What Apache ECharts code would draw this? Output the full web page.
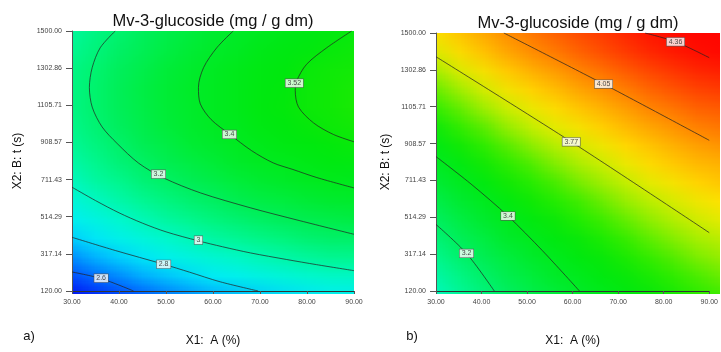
<!DOCTYPE html>
<html>
<head>
<meta charset="utf-8">
<script src="https://cdn.jsdelivr.net/npm/echarts@6/dist/echarts.min.js"></script>
<style>
  html, body { margin: 0; padding: 0; background: #fff; }
  #wrap { position: relative; width: 721px; height: 352px; overflow: hidden; }
  .hm { position: absolute; overflow: hidden; }
  .cells { position: absolute; width: 13px; height: 15px; transform-origin: 0 0; }
  #main { position: absolute; left: 0; top: 0; width: 721px; height: 352px; }
</style>
</head>
<body>
<div id="wrap">
  <div class="hm" id="boxA"><div class="cells" id="cellsA"></div></div>
  <div class="hm" id="boxB"><div class="cells" id="cellsB"></div></div>
  <div id="main"></div>
</div>
<script>
// grid samples of the surface (X1 = A %, X2 = t s)
const xCells = [30, 35, 40, 45, 50, 55, 60, 65, 70, 75, 80, 85, 90]
const yCells = [120, 218.57, 317.14, 415.71, 514.29, 612.86, 711.43, 810, 908.57, 1007.14, 1105.71, 1204.29, 1302.86, 1401.43, 1500]

// a) values, rows from t = 120 up to t = 1500
const zA = [
  [2.49, 2.54, 2.59, 2.63, 2.67, 2.71, 2.75, 2.78, 2.81, 2.84, 2.86, 2.88, 2.90],
  [2.61, 2.66, 2.70, 2.75, 2.79, 2.83, 2.87, 2.90, 2.93, 2.95, 2.98, 3.00, 3.01],
  [2.71, 2.76, 2.81, 2.86, 2.90, 2.94, 2.97, 3.00, 3.03, 3.06, 3.08, 3.10, 3.12],
  [2.81, 2.86, 2.91, 2.95, 2.99, 3.03, 3.07, 3.10, 3.13, 3.15, 3.18, 3.20, 3.21],
  [2.89, 2.94, 2.99, 3.03, 3.08, 3.11, 3.15, 3.18, 3.21, 3.24, 3.26, 3.28, 3.30],
  [2.96, 3.01, 3.06, 3.11, 3.15, 3.19, 3.22, 3.26, 3.29, 3.31, 3.33, 3.35, 3.37],
  [3.02, 3.08, 3.12, 3.17, 3.21, 3.25, 3.28, 3.32, 3.35, 3.37, 3.40, 3.42, 3.43],
  [3.07, 3.13, 3.17, 3.22, 3.26, 3.30, 3.33, 3.37, 3.40, 3.42, 3.45, 3.47, 3.48],
  [3.11, 3.16, 3.21, 3.26, 3.30, 3.34, 3.37, 3.41, 3.44, 3.46, 3.48, 3.50, 3.52],
  [3.14, 3.19, 3.24, 3.29, 3.33, 3.37, 3.40, 3.43, 3.46, 3.49, 3.51, 3.53, 3.55],
  [3.16, 3.21, 3.26, 3.30, 3.34, 3.38, 3.42, 3.45, 3.48, 3.51, 3.53, 3.55, 3.57],
  [3.16, 3.21, 3.26, 3.31, 3.35, 3.39, 3.42, 3.45, 3.48, 3.51, 3.53, 3.55, 3.57],
  [3.16, 3.21, 3.26, 3.30, 3.34, 3.38, 3.42, 3.45, 3.48, 3.50, 3.53, 3.55, 3.56],
  [3.14, 3.19, 3.24, 3.28, 3.33, 3.36, 3.40, 3.43, 3.46, 3.49, 3.51, 3.53, 3.55],
  [3.11, 3.16, 3.21, 3.25, 3.30, 3.33, 3.37, 3.40, 3.43, 3.46, 3.48, 3.50, 3.52]
]

// b) values
const zB = [
  [3.03, 3.10, 3.16, 3.22, 3.28, 3.32, 3.37, 3.42, 3.46, 3.51, 3.55, 3.59, 3.63],
  [3.07, 3.14, 3.20, 3.27, 3.32, 3.37, 3.41, 3.46, 3.51, 3.55, 3.59, 3.63, 3.67],
  [3.12, 3.19, 3.25, 3.31, 3.36, 3.41, 3.46, 3.51, 3.55, 3.60, 3.64, 3.68, 3.72],
  [3.17, 3.24, 3.30, 3.36, 3.41, 3.46, 3.51, 3.55, 3.60, 3.65, 3.69, 3.73, 3.76],
  [3.22, 3.29, 3.35, 3.41, 3.46, 3.51, 3.56, 3.61, 3.65, 3.70, 3.74, 3.78, 3.82],
  [3.27, 3.34, 3.40, 3.47, 3.52, 3.57, 3.61, 3.66, 3.71, 3.75, 3.79, 3.83, 3.87],
  [3.33, 3.40, 3.46, 3.52, 3.57, 3.62, 3.67, 3.72, 3.76, 3.81, 3.85, 3.89, 3.93],
  [3.39, 3.45, 3.52, 3.58, 3.63, 3.68, 3.73, 3.77, 3.82, 3.87, 3.91, 3.95, 3.98],
  [3.45, 3.52, 3.58, 3.64, 3.69, 3.74, 3.79, 3.83, 3.88, 3.93, 3.97, 4.01, 4.04],
  [3.51, 3.58, 3.64, 3.70, 3.76, 3.81, 3.85, 3.90, 3.95, 3.99, 4.03, 4.07, 4.11],
  [3.58, 3.65, 3.71, 3.77, 3.82, 3.87, 3.92, 3.96, 4.01, 4.06, 4.10, 4.14, 4.17],
  [3.65, 3.71, 3.78, 3.84, 3.89, 3.94, 3.99, 4.03, 4.08, 4.13, 4.17, 4.21, 4.24],
  [3.72, 3.79, 3.85, 3.91, 3.96, 4.01, 4.06, 4.10, 4.15, 4.20, 4.24, 4.28, 4.31],
  [3.79, 3.86, 3.92, 3.98, 4.04, 4.08, 4.13, 4.18, 4.23, 4.27, 4.31, 4.35, 4.39],
  [3.87, 3.94, 4.00, 4.06, 4.11, 4.16, 4.21, 4.25, 4.30, 4.35, 4.39, 4.43, 4.46]
]

const xTicks = [30, 40, 50, 60, 70, 80, 90]
const yTicks = [120, 317.14, 514.29, 711.43, 908.57, 1105.71, 1302.86, 1500]

// contour lines, [A, t]
const a26 = [[30, 221], [36.2, 186], [43.1, 120]]
const a28 = [[30, 405], [39.2, 335], [49.5, 262], [55, 220], [61.5, 169], [69.6, 120]]
const a30 = [[30, 671], [35, 600], [40, 535], [45, 480], [50, 434], [56.9, 386], [62, 355], [68, 322], [75.7, 287], [82, 260], [90, 228]]
const a32 = [[39.2, 1500], [36.0, 1411], [34.3, 1306], [33.7, 1201], [34.3, 1096], [36.4, 991], [39.6, 903], [44.2, 798], [49.5, 720], [57.3, 641], [67.9, 562], [78.5, 493], [90, 421]]
const a34 = [[64.3, 1500], [60.8, 1411], [58.0, 1306], [56.9, 1201], [57.3, 1113], [59.6, 1030], [63.6, 951], [68.2, 865], [72.8, 800], [77, 765], [82.1, 722], [90, 667]]
const a352 = [[89.5, 1500], [84.2, 1411], [79.9, 1323], [77.8, 1235], [77.5, 1183], [78.2, 1096], [81.4, 1012], [85.6, 951], [90, 912]]
const aLabels = [[36.2, 188, '2.6'], [49.5, 262, '2.8'], [56.9, 390, '3'], [48.4, 740, '3.2'], [63.5, 951, '3.4'], [77.3, 1223, '3.52']]

const b32 = [[30, 476], [36.7, 321], [42.8, 120]]
const b34 = [[30, 839], [37.9, 688], [45.8, 521], [53.4, 335], [61.5, 120]]
const b377 = [[30, 1373], [59.7, 918], [90, 432]]
const b405 = [[44.9, 1500], [66.8, 1227], [90, 926]]
const b436 = [[75.9, 1500], [82.6, 1453], [90, 1368]]
const bLabels = [[36.7, 321, '3.2'], [45.8, 521, '3.4'], [59.7, 918, '3.77'], [66.8, 1227, '4.05'], [82.6, 1453, '4.36']]

// colour ramp from 2.5 to 4.5, one stop every 0.125
const rampColors = ['#0000f0', '#0040ff', '#0090ff', '#00e8ff', '#00f8d8', '#00f898', '#00f060', '#00ec30', '#00e810',
  '#30ec00', '#a8f000', '#ffe800', '#ffb000', '#ff7800', '#ff4000', '#ff1000', '#ff0000']

const grids = [
  { left: 72, top: 31, width: 282, height: 263 },
  { left: 436, top: 33, width: 284, height: 261 }
]
const font = 'Liberation Sans, Arial, sans-serif'

function drawCells(boxId, cellId, g, z) {
  const box = document.getElementById(boxId)
  box.style.left = g.left + 'px'
  box.style.top = g.top + 'px'
  box.style.width = g.width + 'px'
  box.style.height = g.height + 'px'
  const sx = g.width / (xCells.length - 1)
  const sy = g.height / (yCells.length - 1)
  const el = document.getElementById(cellId)
  el.style.left = (-sx / 2) + 'px'
  el.style.top = (-sy / 2) + 'px'
  el.style.transform = 'scale(' + sx + ',' + sy + ')'
  const data = []
  z.forEach((row, j) => row.forEach((v, i) => data.push([i, j, v])))
  const chart = echarts.init(el, null, { renderer: 'canvas', devicePixelRatio: 1 })
  chart.setOption({
    animation: false,
    grid: { left: 0, right: 0, top: 0, bottom: 0 },
    xAxis: { type: 'category', data: xCells, show: false },
    yAxis: { type: 'category', data: yCells, show: false },
    visualMap: { show: false, min: 2.5, max: 4.5, inRange: { color: rampColors } },
    series: [{ type: 'heatmap', data: data, silent: true }]
  })
}
drawCells('boxA', 'cellsA', grids[0], zA)
drawCells('boxB', 'cellsB', grids[1], zB)

function xAx(i) {
  return {
    type: 'value', gridIndex: i, min: 30, max: 90, interval: 10,
    name: 'X1:  A (%)', nameLocation: 'middle', nameGap: 44,
    nameTextStyle: { fontSize: 12, color: '#111', fontFamily: font },
    axisLine: { lineStyle: { color: '#333', width: 1 } },
    axisTick: { length: 3, lineStyle: { color: '#555' } },
    axisLabel: { fontSize: 7, color: '#444', margin: 8, fontFamily: font, formatter: v => v.toFixed(2) },
    splitLine: { show: false }
  }
}
function yAx(i, gap) {
  return {
    type: 'value', gridIndex: i, min: 120, max: 1500,
    name: 'X2: B: t (s)', nameLocation: 'middle', nameGap: gap,
    nameTextStyle: { fontSize: 12, color: '#111', fontFamily: font },
    axisLine: { show: true, lineStyle: { color: '#555', width: 1 } },
    axisTick: { show: true, length: 6, customValues: yTicks, lineStyle: { color: '#555' } },
    axisLabel: { fontSize: 7, color: '#444', margin: 10, fontFamily: font, customValues: yTicks, formatter: v => v.toFixed(2) },
    splitLine: { show: false }
  }
}
function contour(pts, i) {
  return {
    type: 'line', xAxisIndex: i, yAxisIndex: i, data: pts, smooth: 0.3,
    showSymbol: false, silent: true, z: 3,
    lineStyle: { color: 'rgba(35,35,35,0.8)', width: 0.9 }
  }
}
function labels(list, i) {
  return {
    type: 'scatter', xAxisIndex: i, yAxisIndex: i, data: list, symbolSize: 0, silent: true, z: 5,
    label: {
      show: true, position: 'inside', formatter: p => p.data[2],
      fontSize: 7, color: '#222', fontFamily: font,
      backgroundColor: '#fff', borderColor: '#555', borderWidth: 0.6, padding: [1, 2, 0, 2]
    }
  }
}

const chart = echarts.init(document.getElementById('main'), null, { renderer: 'canvas' })
chart.setOption({
  animation: false,
  grid: grids,
  xAxis: [xAx(0), xAx(1)],
  yAxis: [yAx(0, 48), yAx(1, 44)],
  graphic: [
    { type: 'text', x: 213, y: 21, style: { text: 'Mv-3-glucoside (mg / g dm)', fontSize: 16.5, fill: '#111', fontFamily: font, textAlign: 'center', textVerticalAlign: 'middle' } },
    { type: 'text', x: 578, y: 23, style: { text: 'Mv-3-glucoside (mg / g dm)', fontSize: 16.5, fill: '#111', fontFamily: font, textAlign: 'center', textVerticalAlign: 'middle' } },
    { type: 'text', x: 29, y: 336, style: { text: 'a)', fontSize: 13, fill: '#111', fontFamily: font, textAlign: 'center', textVerticalAlign: 'middle' } },
    { type: 'text', x: 412, y: 336, style: { text: 'b)', fontSize: 13, fill: '#111', fontFamily: font, textAlign: 'center', textVerticalAlign: 'middle' } }
  ],
  series: [
    contour(a26, 0), contour(a28, 0), contour(a30, 0), contour(a32, 0), contour(a34, 0), contour(a352, 0),
    labels(aLabels, 0),
    contour(b32, 1), contour(b34, 1), contour(b377, 1), contour(b405, 1), contour(b436, 1),
    labels(bLabels, 1)
  ]
})
</script>
</body>
</html>
